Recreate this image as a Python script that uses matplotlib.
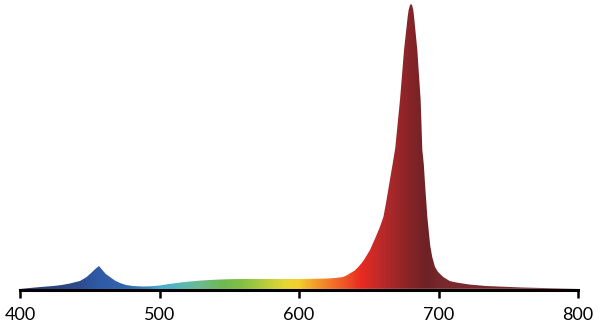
import numpy as np
import matplotlib.pyplot as plt
from matplotlib.colors import LinearSegmentedColormap

# spectrum (wavelength in nm, relative height)
wavelength = [400, 407, 415, 423.8, 430, 435.8, 440, 443, 447.8, 451, 454, 456.6,
              459, 461.5, 464.5, 468, 471.7, 476, 481, 488, 495, 500, 507, 515,
              522, 530, 540, 550, 560, 580, 600, 610, 620, 626, 631.6, 634, 637,
              640, 642.5, 645, 647, 650.9, 655, 658, 660.5, 662.5, 664.8, 667,
              669, 672.4, 675.3, 677.9, 678.6, 679.5, 680.3, 681.1, 681.9, 682.5,
              684.8, 687.2, 688.4, 689.5, 690.3, 692, 694, 695.5, 697.5, 699.7,
              701.5, 703.4, 708, 711, 715, 722, 734, 760, 780, 800]
intensity = [1, 2, 3, 4, 5, 6.5, 8, 9, 13, 17, 21, 24,
             20, 16, 13, 9.5, 7, 5, 4, 3.5, 3.8, 4.5, 6, 7.5,
             8.5, 9.5, 10.3, 10.8, 11, 11, 11, 11.2, 11.5, 12, 13, 14.5, 17,
             19.5, 23, 27, 31, 40, 53, 63, 73, 88, 107, 125,
             142, 190, 240, 273, 280, 284.5, 286, 284.5, 280, 273,
             240, 190, 140, 125, 107, 73, 45, 33, 23, 18,
             15.5, 13, 9, 8, 7, 5.5, 4, 2.5, 1.8, 1.2]

tick_values = [400, 500, 600, 700, 800]

# colour of the fill along the wavelength axis
stop_nm = [400, 440, 455, 475, 490, 500, 515, 530, 545, 560, 575, 590, 600,
           610, 625, 645, 660, 675, 692, 705, 800]
stop_colors = ['#2b3a6e', '#2d4a8a', '#2f5aa6', '#3465ad', '#3a85c0', '#45acd0',
               '#5ab8b5', '#6eba8a', '#6fb850', '#85c043', '#b5cd3c', '#e6d733',
               '#f2cf30', '#f3a42a', '#f2702a', '#e82b22', '#b82a2a', '#922529',
               '#6d2226', '#7a2a2e', '#7a2a2e']

y = np.array(intensity) / max(intensity)

cmap = LinearSegmentedColormap.from_list(
    'spectrum', [((n - 400) / 400, c) for n, c in zip(stop_nm, stop_colors)])

fig = plt.figure(figsize=(6, 3.29), dpi=100)
ax = fig.add_axes([20 / 600, 39 / 329, 558 / 600, 289 / 329])

patch = ax.fill(wavelength, y, facecolor='none', edgecolor='none')[0]
grad = np.linspace(0, 1, 1000).reshape(1, -1)
im = ax.imshow(grad, cmap=cmap, aspect='auto', extent=(400, 800, 0, 1.01),
               interpolation='bilinear')
im.set_clip_path(patch)

ax.set_xlim(400, 800)
ax.set_ylim(0, 1.01)

for side in ['top', 'left', 'right']:
    ax.spines[side].set_visible(False)
ax.spines['bottom'].set_linewidth(2.2)
ax.spines['bottom'].set_zorder(5)

ax.set_yticks([])
ax.set_xticks(tick_values)
ax.set_xticks([400, 800], minor=True)
ax.tick_params(axis='x', which='major', direction='out', length=6, width=1.8,
               labelsize=13, pad=6)
ax.tick_params(axis='x', which='minor', direction='in', length=5.5, width=1.8)
for lab in ax.get_xticklabels():
    lab.set_fontfamily('Lato')

fig.savefig('out.png', dpi=100)
